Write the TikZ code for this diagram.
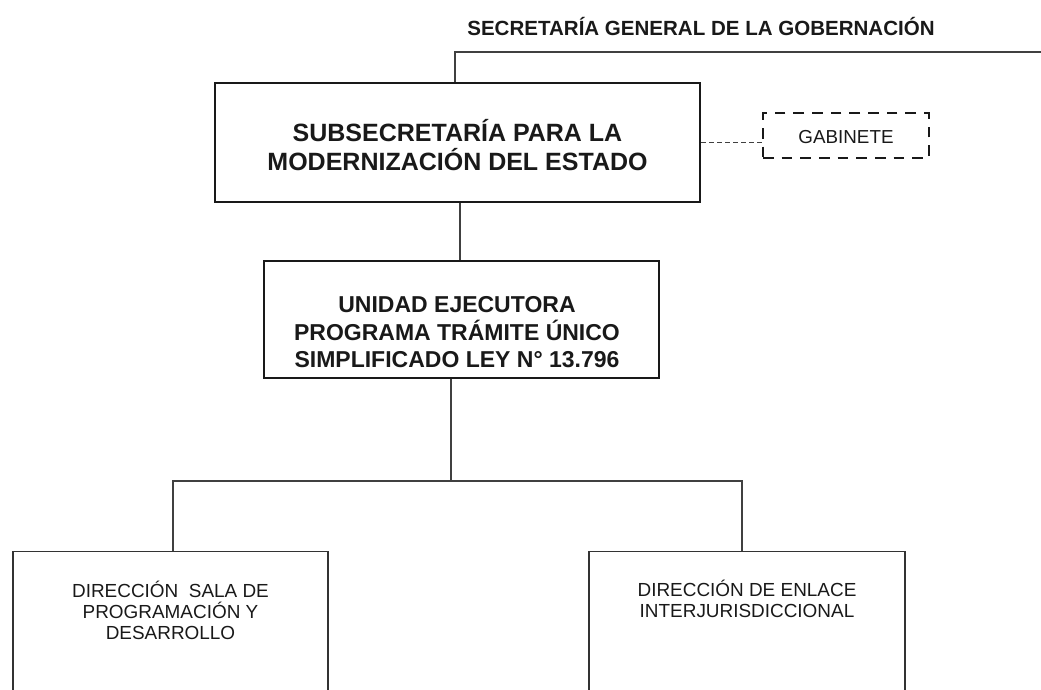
\documentclass[tikz,border=0pt]{standalone}
\usepackage{fontspec}
\setmainfont{Liberation Sans}
\begin{document}
\begin{tikzpicture}[x=0.75pt,y=-0.75pt,
  boxthick/.style={draw=black!90, line width=2.2pt, inner sep=0pt},
  boxmid/.style={draw=black!90, line width=1.8pt, inner sep=0pt},
  boxthin/.style={draw=black!80, line width=0.8pt, inner sep=0pt},
  gabbox/.style={draw=black!90, line width=2.2pt, dash pattern=on 8pt off 6pt, inner sep=0pt},
  conn/.style={draw=black!75, line width=1pt},
  dconn/.style={draw=black!75, line width=0.8pt, dash pattern=on 3.5pt off 2.5pt},
  lbl/.style={align=center, inner sep=0pt, text=black!90}]
\useasboundingbox (0,0) rectangle (1041,689);
\clip (0,0) rectangle (1041,689);

% title
\node[lbl, font=\fontsize{15.4pt}{18pt}\selectfont\bfseries] (title) at (701,26) {SECRETARÍA GENERAL DE LA GOBERNACIÓN};
\coordinate (tl) at (1041,52);

% boxes
\node[boxthick, minimum width=363.75pt, minimum height=89.25pt] (sub) at (457.5,142.5) {};
\node[lbl, font=\fontsize{18.75pt}{21.75pt}\selectfont\bfseries] (subt) at (457.5,145.5) {SUBSECRETARÍA PARA LA\\MODERNIZACIÓN DEL ESTADO};

\node[gabbox, minimum width=124.5pt, minimum height=33.75pt] (gab) at (846,135.5) {};
\node[lbl, font=\fontsize{14.1pt}{16pt}\selectfont] (gabt) at (846,137) {GABINETE};

\node[boxmid, minimum width=296.25pt, minimum height=87.75pt] (uni) at (461.5,319.5) {};
\node[lbl, font=\fontsize{17.25pt}{20.6pt}\selectfont\bfseries] (unit) at (457,332.5) {UNIDAD EJECUTORA\\PROGRAMA TRÁMITE ÚNICO\\SIMPLIFICADO LEY N° 13.796};

\node[boxthin, minimum width=236.25pt, minimum height=135pt, anchor=north] (dl) at (170.5,551) {};
\node[lbl, font=\fontsize{14.2pt}{15.75pt}\selectfont] (dlt) at (170.5,610) {DIRECCIÓN \ SALA DE\\PROGRAMACIÓN Y\\DESARROLLO};

\node[boxthin, minimum width=237pt, minimum height=135pt, anchor=north] (dr) at (747,551) {};
\node[lbl, font=\fontsize{14.2pt}{15.75pt}\selectfont] (drt) at (747,599) {DIRECCIÓN DE ENLACE\\INTERJURISDICCIONAL};

% connectors
\draw[conn] (tl) -- (455,52) -- (sub.north -| 455,0);
\draw[dconn] (sub.east) -- (gab.west |- sub.east);
\draw[conn] (sub.south -| 460,0) -- (uni.north -| 460,0);
\coordinate (bus) at (451,481);
\draw[conn] (uni.south -| bus) -- (bus);
\draw[conn] (dl.north -| 173,0) -- (173,481) -- (742,481) -- (dr.north -| 742,0);
\end{tikzpicture}
\end{document}
